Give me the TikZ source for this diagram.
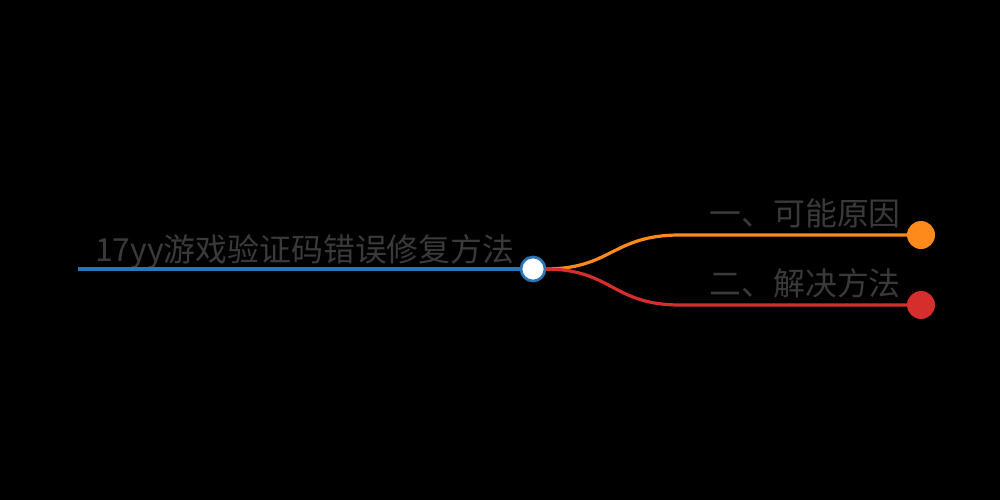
\documentclass[tikz,border=0pt]{standalone}
\usepackage{fontspec}
\newfontfamily\cjk{Noto Sans CJK SC}
\definecolor{txt}{HTML}{3A3A3A}
\definecolor{rootblue}{HTML}{2A76B4}
\definecolor{brorange}{HTML}{FF8A1C}
\definecolor{brred}{HTML}{D62D2D}
\tikzset{
  lbl/.style={font=\cjk\fontsize{23.9pt}{27pt}\selectfont, text=txt, inner sep=0pt},
  edge/.style={line width=2.4pt, line cap=round},
  enddot/.style={circle, minimum size=21pt, inner sep=0pt},
}
\begin{document}
\begin{tikzpicture}[x=0.75pt,y=-0.75pt]
\fill[black] (0,0) rectangle (1000,500);
\useasboundingbox (0,0) rectangle (1000,500);
% root
\coordinate (rootstart) at (78,269);
\node[lbl, anchor=base west] (roottext) at (95,261) {17yy游戏验证码错误修复方法};
% branches
\coordinate (b1mid) at (680,235);
\coordinate (b2mid) at (680,305);
\node[enddot, fill=brorange] (dot1) at (921,235) {};
\node[enddot, fill=brred] (dot2) at (921,305) {};
\coordinate (fork) at (545,269);
\draw[edge, brorange] (fork) .. controls (612,269) and (612,235) .. (b1mid) -- (dot1.center);
\draw[edge, brred] (fork) .. controls (612,269) and (612,305) .. (b2mid) -- (dot2.center);
\draw[edge, rootblue, line cap=butt] (rootstart) -- (533,269);
\node[circle, draw=rootblue, line width=2pt, fill=white, minimum size=18pt, inner sep=0pt] (rootdot) at (533,269) {};
\node[lbl, anchor=base east] (b1text) at (901,225) {一、可能原因};
\node[lbl, anchor=base east] (b2text) at (901,295) {二、解决方法};
\end{tikzpicture}
\end{document}
